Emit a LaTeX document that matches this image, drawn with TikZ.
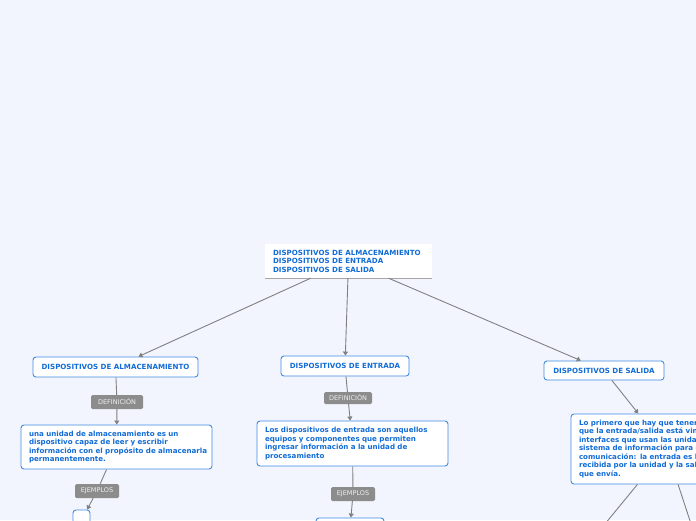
\documentclass[tikz,border=0pt]{standalone}
\usepackage{fontspec}
\newfontfamily\mapfont{DejaVu Sans}
\definecolor{bgblue}{RGB}{242,245,254}
\definecolor{topicblue}{RGB}{18,108,214}
\definecolor{edgeblue}{RGB}{64,140,226}
\definecolor{linkgray}{RGB}{128,128,128}
\definecolor{tagfill}{RGB}{140,140,140}
\hyphenpenalty=10000
\tikzset{
  topic/.style={draw=edgeblue, line width=0.9pt, fill=white, rounded corners=3pt,
    font=\mapfont\bfseries\fontsize{7.1}{8.5}\selectfont, text=topicblue,
    inner sep=0pt},
  note/.style={topic, align=left, text width=#1},
  tag/.style={fill=tagfill, rounded corners=1.5pt, text=white!88!gray,
    font=\mapfont\fontsize{6.5}{7}\selectfont, inner sep=0pt},
  link/.style={draw=linkgray, line width=0.9pt},
  arr/.style={link, -{Triangle[width=5pt,length=4pt]}}
}
\usetikzlibrary{arrows.meta}
\begin{document}
\begin{tikzpicture}[x=1pt,y=-1pt]
  \useasboundingbox (0,0) rectangle (696,520);
  \fill[bgblue] (0,0) rectangle (696,520);
  \clip (0,0) rectangle (696,520);

  % centro
  \node[fill=white, inner sep=0pt, minimum width=167pt, minimum height=34pt,
    font=\mapfont\bfseries\fontsize{7.1}{8.5}\selectfont, text=topicblue] (root) at (348.5,261)
    {\begin{minipage}{151pt}DISPOSITIVOS DE ALMACENAMIENTO\\DISPOSITIVOS DE ENTRADA\\DISPOSITIVOS DE SALIDA\end{minipage}};
  \draw[linkgray!70, line width=1pt] (root.south west) -- (root.south east);

  % ramas principales
  \node[topic, minimum width=165pt, minimum height=20pt] (almac) at (115.5,367) {DISPOSITIVOS DE ALMACENAMIENTO};
  \node[topic, minimum width=128pt, minimum height=20pt] (entrada) at (345,366) {DISPOSITIVOS DE ENTRADA};
  \node[topic, minimum width=120pt, minimum height=19pt] (salida) at (604,370.5) {DISPOSITIVOS DE SALIDA};

  \draw[arr] (root) -- (almac);
  \draw[arr] (root) -- (entrada);
  \draw[arr] (root) -- (salida);

  % almacenamiento
  \node[tag, minimum width=52pt, minimum height=14pt] (defAtag) at (117,402) {DEFINICIÓN};
  \node[note=175pt, minimum width=191pt, minimum height=44pt] (defA) at (116.5,447)
    {una unidad de almacenamiento es un\\dispositivo capaz de leer y escribir\\\mbox{información con el propósito de almacenarla}\\permanentemente.};
  \node[tag, minimum width=44pt, minimum height=14pt] (ejAtag) at (97,491) {EJEMPLOS};
  \node[topic, minimum width=17pt, minimum height=20pt] (exA) at (81.5,520) {};
  \draw[arr] (almac) -- (defAtag) -- (defA);
  \draw[arr] (defA) -- (ejAtag) -- (exA);

  % entrada
  \node[tag, minimum width=48pt, minimum height=12pt] (defBtag) at (348,398) {DEFINICIÓN};
  \node[note=175pt, minimum width=191pt, minimum height=45pt] (defB) at (352.5,443.5)
    {Los dispositivos de entrada son aquellos\\equipos y componentes que permiten\\ingresar información a la unidad de\\procesamiento};
  \node[tag, minimum width=44pt, minimum height=14pt] (ejBtag) at (353,494) {EJEMPLOS};
  \node[topic, minimum width=68pt, minimum height=20pt] (exB) at (350,528) {};
  \draw[arr] (entrada) -- (defBtag) -- (defB);
  \draw[arr] (defB) -- (ejBtag) -- (exB);

  % salida
  \node[note=175pt, minimum width=191pt, minimum height=70pt] (defC) at (666.5,449)
    {Lo primero que hay que tener en cuenta es\\que la entrada/salida está vinculada a las\\interfaces que usan las unidades de un\\sistema de información para establecer la\\comunicación: la entrada es la señal\\recibida por la unidad y la salida la\\que envía.};
  \coordinate (exC1) at (600,530);
  \coordinate (exC2) at (693,530);
  \draw[arr] (salida) -- (defC);
  \draw[link] (defC) -- (exC1);
  \draw[link] (defC) -- (exC2);
\end{tikzpicture}
\end{document}
